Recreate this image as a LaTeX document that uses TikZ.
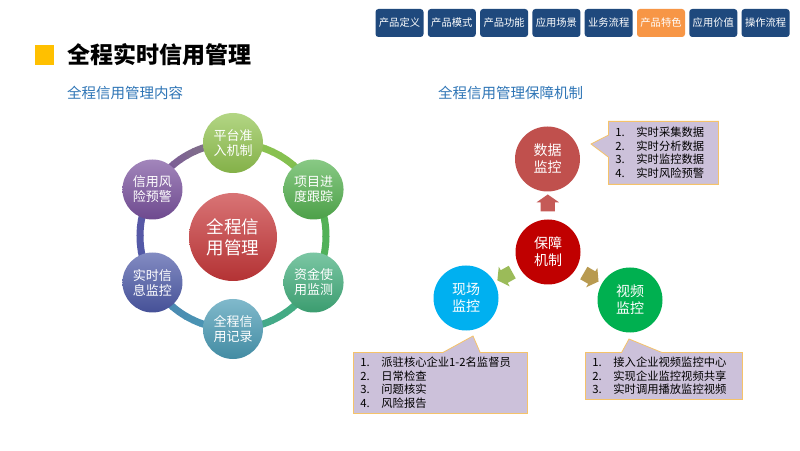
\documentclass[tikz,border=0pt]{standalone}
\usepackage{fontspec}
\setmainfont{Noto Sans CJK SC}
\usetikzlibrary{shapes.arrows,shapes.callouts,calc}

\definecolor{navblue}{HTML}{1F497D}
\definecolor{navorange}{HTML}{F79646}
\definecolor{titleyellow}{HTML}{FFC000}
\definecolor{subblue}{HTML}{2E75B6}
\definecolor{cA}{HTML}{92C450}
\definecolor{cB}{HTML}{55B250}
\definecolor{cC}{HTML}{42AE7C}
\definecolor{cD}{HTML}{4A9BB5}
\definecolor{cE}{HTML}{4D5AA8}
\definecolor{cF}{HTML}{7A529E}
\definecolor{cR}{HTML}{C8383A}
\definecolor{shujucol}{HTML}{C0504D}
\definecolor{baozhangcol}{HTML}{C00000}
\definecolor{xianchangcol}{HTML}{00B0F0}
\definecolor{shipincol}{HTML}{00B050}
\definecolor{arrowup}{HTML}{C55A57}
\definecolor{arrowleft}{HTML}{9BBB59}
\definecolor{arrowright}{HTML}{B89A50}
\definecolor{boxfill}{HTML}{CCC1DA}
\definecolor{boxline}{HTML}{F5C36A}

\newcommand\itm[2]{\makebox[21pt][l]{#1}#2}

\tikzset{
  navbtn/.style={fill=#1, rounded corners=3pt, minimum width=48pt, minimum height=28pt, inner sep=0pt, text=white, font=\fontsize{10.3}{12}\selectfont},
  ball/.style={circle, minimum size=60pt, inner sep=0pt, top color=#1!70!white, bottom color=#1!90!black, text=white, align=center, font=\fontsize{13}{15}\selectfont},
  flatball/.style={circle, fill=#1, minimum size=65pt, inner sep=0pt, text=white, align=center, font=\fontsize{14}{17}\selectfont},
  blockarrow/.style={single arrow, fill=#1, minimum height=17pt, inner xsep=0pt, inner ysep=7pt, single arrow head extend=4pt, single arrow tip angle=110},
  note/.style={rectangle callout, fill=boxfill, draw=boxline, line width=0.8pt, anchor=north west, inner xsep=7pt, inner ysep=0pt, align=left, font=\fontsize{11.3}{13.5}\selectfont},
  ring/.style={line width=7pt}
}

\begin{document}
\begin{tikzpicture}[x=1pt,y=1pt]
\useasboundingbox[fill=white] (0,0) rectangle (800,450);

% top menu
\foreach \i/\t/\col in {0/产品定义/navblue,1/产品模式/navblue,2/产品功能/navblue,3/应用场景/navblue,4/业务流程/navblue,5/产品特色/navorange,6/应用价值/navblue,7/操作流程/navblue}
  \node[navbtn=\col] (nav\i) at (399.5+52.3*\i,427) {\t};

% title
\fill[titleyellow] (35,385) rectangle (54,405);
\node[anchor=west, inner sep=0pt, font=\fontsize{23}{27}\selectfont\bfseries] (title) at (67,395) {全程实时信用管理};
\node[anchor=west, inner sep=0pt, text=subblue, font=\fontsize{14.5}{17}\selectfont] (subleft) at (67,357) {全程信用管理内容};
\node[anchor=west, inner sep=0pt, text=subblue, font=\fontsize{14.5}{17}\selectfont] (subright) at (438,357) {全程信用管理保障机制};

% left: ring of six
\coordinate (ringc) at (233,214);
\foreach \ang/\ca/\cb in {90/cA/cB,30/cB/cC,-30/cC/cD,-90/cD/cE,-150/cE/cF,150/cF/cA}
  \foreach \k in {0,...,11} {
    \pgfmathsetmacro\seg{\ang-5*\k}
    \pgfmathtruncatemacro\mix{100-35*\k/11}
    \draw[ring, \ca!\mix!\cb] (ringc) ++(\seg:93) arc (\seg:\seg-5.6:93);
  }

\foreach \ang/\nm/\col/\txt in {90/zhunru/cA/{平台准\\入机制},30/jindu/cB/{项目进\\度跟踪},-30/zijin/cC/{资金使\\用监测},-90/jilu/cD/{全程信\\用记录},-150/jiankong/cE/{实时信\\息监控},150/yujing/cF/{信用风\\险预警}}
  \path (ringc) ++(\ang:93) node[ball=\col] (\nm) {\txt};

\node[ball=cR, minimum size=88pt, font=\fontsize{17.5}{21}\selectfont] (quancheng) at (233,213) {全程信\\用管理};

% right: mechanism
\node[flatball=baozhangcol] (baozhang) at (548,198) {保障\\机制};
\node[flatball=shujucol] (shuju) at (547.5,291) {数据\\监控};
\node[flatball=xianchangcol] (xianchang) at (466,152) {现场\\监控};
\node[flatball=shipincol] (shipin) at (630,150) {视频\\监控};

\node[blockarrow=arrowup, rotate=90] (arrA) at ($(baozhang)!0.5!(shuju)$) {};
\node[blockarrow=arrowleft, rotate=209] (arrB) at ($(baozhang)!0.5!(xianchang)$) {};
\node[blockarrow=arrowright, rotate=-30] (arrC) at ($(baozhang)!0.5!(shipin)$) {};

% notes
\node[note, minimum width=110pt, minimum height=63pt, text width=96pt, callout absolute pointer={(591,306)}, callout pointer width=22pt] (noteshuju) at (608,329)
  {\itm{1.}{实时采集数据}\\\itm{2.}{实时分析数据}\\\itm{3.}{实时监控数据}\\\itm{4.}{实时风险预警}};
\node[note, minimum width=174pt, minimum height=61pt, text width=160pt, callout absolute pointer={(473,114)}, callout pointer width=37pt] (notexianchang) at (353,98)
  {\itm{1.}{派驻核心企业1-2名监督员}\\\itm{2.}{日常检查}\\\itm{3.}{问题核实}\\\itm{4.}{风险报告}};
\node[note, minimum width=157pt, minimum height=47pt, text width=143pt, callout absolute pointer={(629,111)}, callout pointer width=40pt] (noteshipin) at (585,98)
  {\itm{1.}{接入企业视频监控中心}\\\itm{2.}{实现企业监控视频共享}\\\itm{3.}{实时调用播放监控视频}};
\end{tikzpicture}
\end{document}
